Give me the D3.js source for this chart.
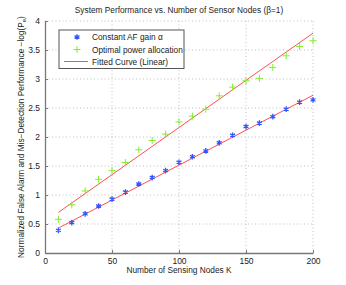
<!DOCTYPE html>
<html>
<head>
<meta charset="utf-8">
<script src="https://cdn.jsdelivr.net/npm/d3@7"></script>
<style>
body { margin: 0; background: #fff; }
text { font-family: "Liberation Sans", Arial, sans-serif; }
</style>
</head>
<body>
<div id="chart"></div>
<script>
var nodesK = [10, 20, 30, 40, 50, 60, 70, 80, 90, 100, 110, 120, 130, 140, 150, 160, 170, 180, 190, 200];
var constGain = [0.39, 0.525, 0.675, 0.81, 0.93, 1.05, 1.19, 1.30, 1.42, 1.565, 1.66, 1.76, 1.90, 2.03, 2.18, 2.24, 2.35, 2.48, 2.60, 2.64];
var optPower = [0.58, 0.83, 1.07, 1.27, 1.42, 1.56, 1.78, 1.94, 2.05, 2.26, 2.36, 2.48, 2.71, 2.86, 2.97, 3.01, 3.20, 3.40, 3.56, 3.66];
// fitted lines, value at K=10 and K=200
var fitK = [10, 200];
var fitConst = [0.43, 2.72];
var fitOpt = [0.70, 3.79];
var xTicks = [0, 50, 100, 150, 200];
var yTicks = [0, 0.5, 1, 1.5, 2, 2.5, 3, 3.5, 4];
var legendLabels = ["Constant AF gain \u03b1", "Optimal power allocation", "Fitted Curve (Linear)"];

var w = 346, h = 285;
var pLeft = 45, pRight = 313, pTop = 21, pBottom = 253;

var svg = d3.select("#chart").append("svg")
    .attr("width", w)
    .attr("height", h);

var x = d3.scaleLinear().domain([0, 200]).range([pLeft, pRight]);
var y = d3.scaleLinear().domain([0, 4]).range([pBottom, pTop]);

// grid
svg.selectAll(".vgrid")
    .data(xTicks.slice(1))
    .enter()
    .append("line")
    .attr("x1", d => x(d)).attr("x2", d => x(d))
    .attr("y1", pTop).attr("y2", pBottom)
    .attr("stroke", "#b0b0b0")
    .attr("stroke-width", 0.8)
    .style("stroke-dasharray", "1,2.5");

svg.selectAll(".hgrid")
    .data(yTicks.slice(1))
    .enter()
    .append("line")
    .attr("x1", pLeft).attr("x2", pRight)
    .attr("y1", d => y(d)).attr("y2", d => y(d))
    .attr("stroke", "#b0b0b0")
    .attr("stroke-width", 0.8)
    .style("stroke-dasharray", "1,2.5");

// axes
var xAxis = d3.axisBottom(x).tickValues(xTicks).tickSizeInner(-3).tickSizeOuter(0).tickPadding(5);
var yAxis = d3.axisLeft(y).tickValues(yTicks).tickSizeInner(-3).tickSizeOuter(0).tickPadding(5)
    .tickFormat(d3.format("~g"));

var gx = svg.append("g").attr("transform", "translate(0," + pBottom + ")").call(xAxis);
var gy = svg.append("g").attr("transform", "translate(" + pLeft + ",0)").call(yAxis);

[gx, gy].forEach(function(g){
    g.select(".domain").attr("stroke", "#777").attr("stroke-width", 1.3);
    g.selectAll(".tick line").attr("stroke", "#777");
    g.selectAll(".tick text").attr("fill", "#222").style("font-size", "8.5px")
        .style("font-family", "'Liberation Sans', Arial, sans-serif");
});

// fitted lines
var line = d3.line().x(d => x(d[0])).y(d => y(d[1]));
[fitConst, fitOpt].forEach(function(f){
    svg.append("path")
        .datum(fitK.map((k, i) => [k, f[i]]))
        .attr("d", line)
        .attr("fill", "none")
        .attr("stroke", "#ff5050")
        .attr("stroke-width", 1);
});

// markers
var star = d3.symbol().type(d3.symbolAsterisk).size(22);
svg.selectAll(".blue")
    .data(nodesK)
    .enter()
    .append("path")
    .attr("transform", (d, i) => "translate(" + x(d) + "," + y(constGain[i]) + ")")
    .attr("d", star)
    .attr("fill", "none")
    .attr("stroke", "#3355ff")
    .attr("stroke-width", 1.3);

function plusPath(s){
    return "M" + (-s) + ",0H" + s + "M0," + (-s) + "V" + s;
}
svg.selectAll(".green")
    .data(nodesK)
    .enter()
    .append("path")
    .attr("transform", (d, i) => "translate(" + x(d) + "," + y(optPower[i]) + ")")
    .attr("d", plusPath(3.5))
    .attr("fill", "none")
    .attr("stroke", "#80ee30")
    .attr("stroke-width", 1);

// title and labels
svg.append("text")
    .attr("x", 179).attr("y", 13)
    .attr("text-anchor", "middle")
    .style("font-size", "8.3px")
    .attr("fill", "#222")
    .text("System Performance vs. Number of Sensor Nodes (\u03b2=1)");

svg.append("text")
    .attr("x", 179).attr("y", 273)
    .attr("text-anchor", "middle")
    .style("font-size", "8.3px")
    .attr("fill", "#222")
    .text("Number of Sensing Nodes K");

var yl = svg.append("text")
    .attr("transform", "translate(24,137) rotate(-90)")
    .attr("text-anchor", "middle")
    .style("font-size", "8.3px")
    .attr("fill", "#222");
yl.append("tspan").text("Normalized False Alarm and Mis\u2212Detection Performance \u2212log(P");
yl.append("tspan").attr("dy", 2).style("font-size", "6px").text("e");
yl.append("tspan").attr("dy", -2).text(")");

// legend
var lg = svg.append("g");
lg.append("rect")
    .attr("x", 59).attr("y", 30)
    .attr("width", 125).attr("height", 38.5)
    .attr("fill", "#fff")
    .attr("stroke", "#555")
    .attr("stroke-width", 1);

var ly = [37, 49.5, 61.5];
lg.append("path")
    .attr("transform", "translate(77," + ly[0] + ")")
    .attr("d", star)
    .attr("fill", "none")
    .attr("stroke", "#3355ff")
    .attr("stroke-width", 1.3);
lg.append("path")
    .attr("transform", "translate(77," + ly[1] + ")")
    .attr("d", plusPath(3.5))
    .attr("fill", "none")
    .attr("stroke", "#80ee30");
lg.append("line")
    .attr("x1", 64).attr("x2", 88)
    .attr("y1", ly[2]).attr("y2", ly[2])
    .attr("stroke", "#ff5050");

lg.selectAll(".lt")
    .data(legendLabels)
    .enter()
    .append("text")
    .attr("x", 92)
    .attr("y", (d, i) => ly[i] + 3)
    .style("font-size", "8.3px")
    .attr("fill", "#222")
    .text(d => d);
</script>
</body>
</html>
